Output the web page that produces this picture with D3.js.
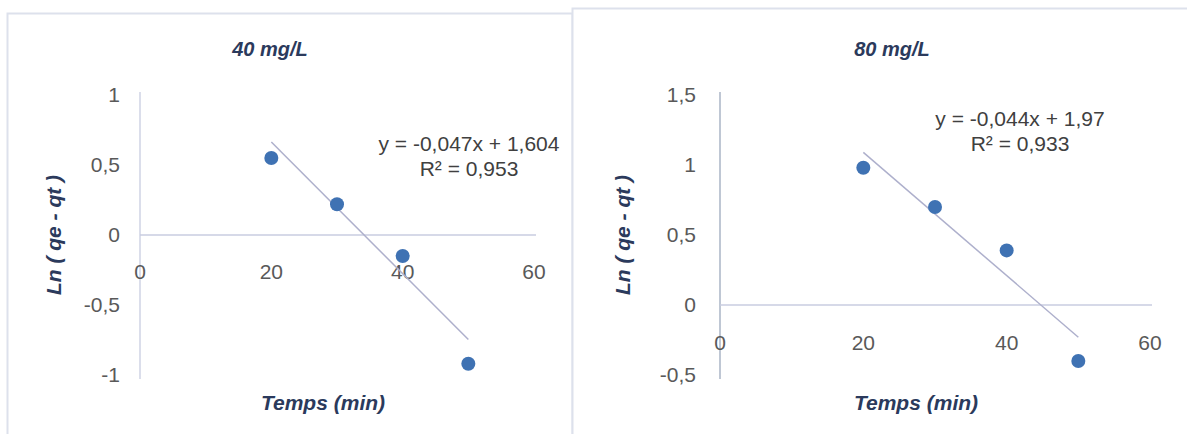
<!DOCTYPE html>
<html>
<head>
<meta charset="utf-8">
<script src="https://cdn.jsdelivr.net/npm/d3@7"></script>
<style>
  html, body { margin: 0; padding: 0; background: #ffffff; }
  svg { display: block; font-family: "Liberation Sans", Arial, sans-serif; }
</style>
</head>
<body>
<svg id="chart" width="1187" height="434"></svg>
<script>
// Pseudo-first-order kinetics: Ln(qe - qt) versus contact time
const times = [20, 30, 40, 50];
const ln40 = [0.55, 0.22, -0.15, -0.92];
const ln80 = [0.98, 0.70, 0.39, -0.40];

const titles = ["40 mg/L", "80 mg/L"];
const slopes = [-0.047, -0.044];
const intercepts = [1.604, 1.97];
const r2Values = [0.953, 0.933];
const fitRange = [20, 50];

const xTicks = [0, 20, 40, 60];
const yTicks40 = [-1, -0.5, 0, 0.5, 1];
const yTicks80 = [-0.5, 0, 0.5, 1, 1.5];

const xLabel = "Temps (min)";
const yLabel = "Ln ( qe - qt )";

const fr = d3.formatLocale({ decimal: ",", thousands: " ", grouping: [3], currency: ["", ""], minus: "-" });
const fmtTick = fr.format("");
const fmtCoef = v => fr.format(".3~f")(v);

const svg = d3.select("#chart");

const panels = [
  {
    frame: { x: 7.5, y: 13.5, w: 565, h: 440 },
    x: d3.scaleLinear().domain([0, 60]).range([140, 534]),
    y: d3.scaleLinear().domain([-1, 1]).range([375, 95]),
    values: ln40, yTicks: yTicks40,
    title: titles[0], titleX: 270,
    slope: slopes[0], intercept: intercepts[0], r2: r2Values[0],
    eqX: 469, eqY: 151,
    yTickGap: 20, xLabelDy: 44,
    yLabelX: 54, xLabelX: 323, xLabelY: 410,
    axisColor: "#cfd3e4"
  },
  {
    frame: { x: 572.5, y: 8.5, w: 640, h: 440 },
    x: d3.scaleLinear().domain([0, 60]).range([720, 1150]),
    y: d3.scaleLinear().domain([-0.5, 1.5]).range([375, 95]),
    values: ln80, yTicks: yTicks80,
    title: titles[1], titleX: 892,
    slope: slopes[1], intercept: intercepts[1], r2: r2Values[1],
    eqX: 1020, eqY: 126,
    yTickGap: 24, xLabelDy: 45,
    yLabelX: 623, xLabelX: 916, xLabelY: 410,
    axisColor: "#aab4c6"
  }
];

panels.forEach(p => {
  const g = svg.append("g");

  // chart frame
  g.append("rect")
    .attr("x", p.frame.x).attr("y", p.frame.y)
    .attr("width", p.frame.w).attr("height", p.frame.h)
    .attr("fill", "#ffffff")
    .attr("stroke", "#dde1ec").attr("stroke-width", 2);

  // title
  g.append("text")
    .attr("x", p.titleX).attr("y", 56)
    .attr("text-anchor", "middle")
    .attr("font-size", 20).attr("font-weight", "bold").attr("font-style", "italic")
    .attr("fill", "#2b3a5c")
    .text(p.title);

  const [x0, x1] = p.x.range();
  const [yBottom, yTop] = p.y.range();
  const y0 = p.y(0);

  // y axis (vertical line at x = 0)
  g.append("line")
    .attr("x1", p.x(0)).attr("x2", p.x(0))
    .attr("y1", yTop - 3).attr("y2", yBottom + 4)
    .attr("stroke", p.axisColor).attr("stroke-width", 1.5);

  // x axis (horizontal line at y = 0)
  g.append("line")
    .attr("x1", x0).attr("x2", x1 + 2)
    .attr("y1", y0).attr("y2", y0)
    .attr("stroke", "#c9cde0").attr("stroke-width", 1.5);

  // y tick labels
  g.selectAll(".ytick").data(p.yTicks).join("text")
    .attr("x", p.x(0) - p.yTickGap)
    .attr("y", d => p.y(d))
    .attr("dy", "0.35em")
    .attr("text-anchor", "end")
    .attr("font-size", 21)
    .attr("fill", "#595959")
    .text(d => fmtTick(d));

  // x tick labels
  g.selectAll(".xtick").data(xTicks).join("text")
    .attr("x", d => p.x(d))
    .attr("y", y0 + p.xLabelDy)
    .attr("text-anchor", "middle")
    .attr("font-size", 21)
    .attr("fill", "#595959")
    .text(d => fmtTick(d));

  // linear trendline from the fitted equation
  const fit = fitRange.map(t => [t, p.slope * t + p.intercept]);
  g.append("line")
    .attr("x1", p.x(fit[0][0])).attr("y1", p.y(fit[0][1]))
    .attr("x2", p.x(fit[1][0])).attr("y2", p.y(fit[1][1]))
    .attr("stroke", "#aeb0cc").attr("stroke-width", 1.5);

  // data points
  g.selectAll(".pt").data(times.map((t, i) => [t, p.values[i]])).join("circle")
    .attr("cx", d => p.x(d[0]))
    .attr("cy", d => p.y(d[1]))
    .attr("r", 7)
    .attr("fill", "#3f72b3");

  // equation and R²
  const sign = p.intercept >= 0 ? " + " : " - ";
  const eq = "y = " + fmtCoef(p.slope) + "x" + sign + fmtCoef(Math.abs(p.intercept));
  g.append("text")
    .attr("x", p.eqX).attr("y", p.eqY)
    .attr("text-anchor", "middle")
    .attr("font-size", 21).attr("fill", "#404040")
    .text(eq);
  g.append("text")
    .attr("x", p.eqX).attr("y", p.eqY + 25)
    .attr("text-anchor", "middle")
    .attr("font-size", 21).attr("fill", "#404040")
    .text("R² = " + fmtCoef(p.r2));

  // axis titles
  g.append("text")
    .attr("x", p.xLabelX).attr("y", p.xLabelY)
    .attr("text-anchor", "middle")
    .attr("font-size", 21).attr("font-weight", "bold").attr("font-style", "italic")
    .attr("fill", "#2b3a5c")
    .text(xLabel);

  g.append("text")
    .attr("transform", `translate(${p.yLabelX},${(yTop + yBottom) / 2}) rotate(-90)`)
    .attr("dy", "0.35em")
    .attr("text-anchor", "middle")
    .attr("font-size", 21).attr("font-weight", "bold").attr("font-style", "italic")
    .attr("fill", "#2b3a5c")
    .text(yLabel);
});
</script>
</body>
</html>
